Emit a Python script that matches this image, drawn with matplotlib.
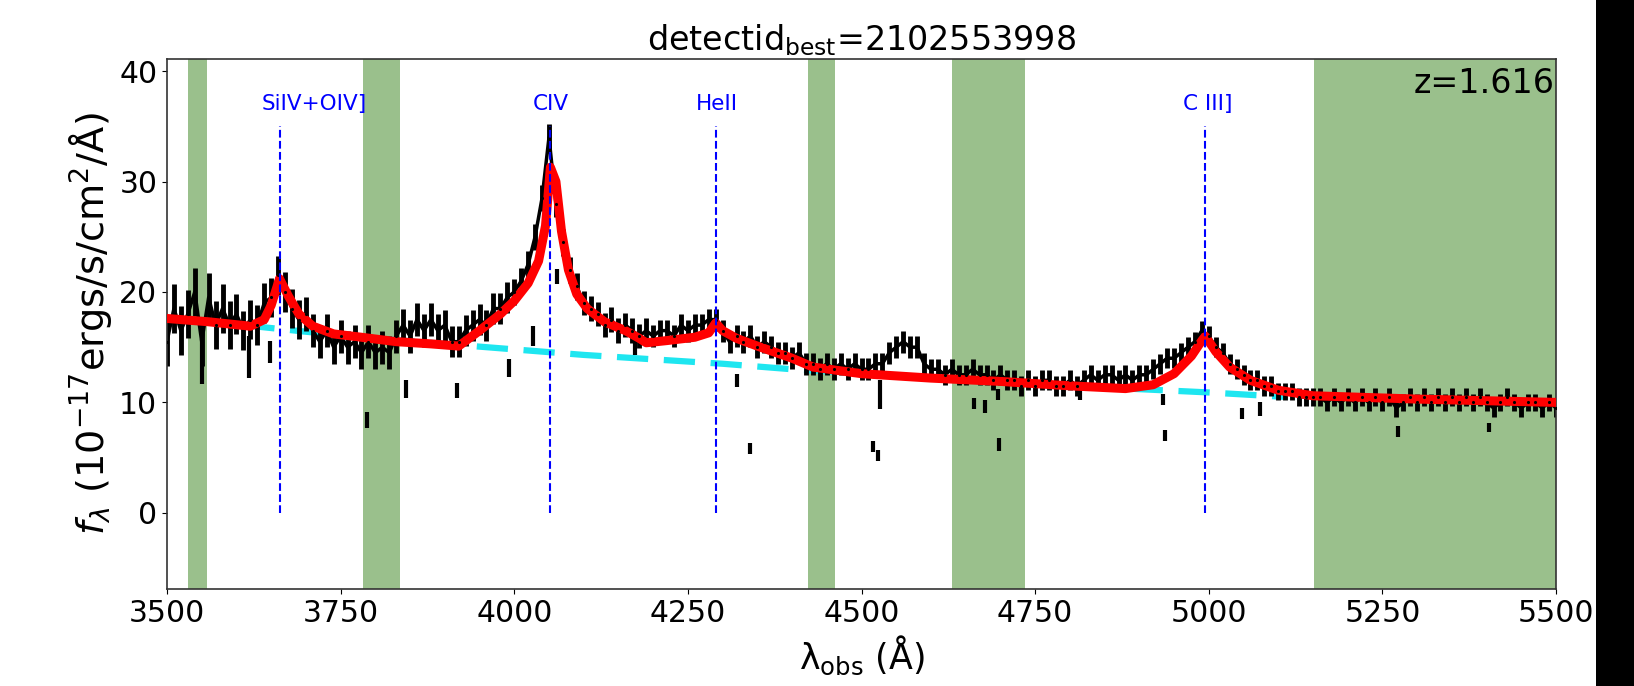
import numpy as np
import matplotlib
matplotlib.use('Agg')
import matplotlib.pyplot as plt
from matplotlib.patches import Rectangle

# observed spectrum, 10 A steps from 3500 to 5500
wave = np.arange(3500, 5501, 10)
flux = [
    15.5, 18.5, 16.5, 18.0, 20.0, 15.5, 19.5, 17.0, 18.5, 17.0,   # 3500
    18.0, 16.5, 17.5, 17.0, 19.0, 19.5, 21.5, 20.0, 18.5, 17.5,   # 3600
    18.0, 16.5, 15.5, 16.5, 15.0, 16.0, 15.0, 15.5, 14.5, 15.5,   # 3700
    14.5, 15.0, 14.5, 16.0, 17.0, 16.0, 17.5, 16.5, 17.5, 16.5,   # 3800
    17.0, 15.5, 15.5, 16.5, 17.0, 17.5, 17.0, 18.5, 18.5, 19.5,   # 3900
    20.0, 21.0, 22.5, 25.0, 28.5, 34.0, 28.0, 24.5, 22.0, 20.5,   # 4000
    19.0, 18.5, 18.0, 17.0, 17.5, 16.5, 17.0, 16.5, 16.0, 16.5,   # 4100
    16.0, 16.5, 16.5, 16.0, 17.0, 16.5, 17.0, 17.0, 17.5, 17.5,   # 4200
    16.5, 15.5, 16.0, 15.5, 16.0, 15.0, 15.5, 15.0, 14.5, 14.5,   # 4300
    14.0, 14.5, 13.5, 13.5, 13.0, 13.5, 13.0, 13.5, 13.0, 13.5,   # 4400
    13.0, 13.0, 13.5, 13.5, 14.5, 15.0, 15.5, 15.0, 15.0, 13.5,   # 4500
    13.0, 13.0, 12.5, 13.0, 12.5, 12.5, 13.0, 12.5, 12.5, 12.0,   # 4600
    12.5, 12.0, 12.0, 11.5, 12.0, 11.5, 12.0, 12.0, 11.5, 11.5,   # 4700
    12.0, 11.5, 12.0, 12.5, 12.0, 12.5, 12.5, 12.0, 12.5, 12.0,   # 4800
    12.5, 12.5, 13.0, 13.5, 14.0, 14.0, 14.5, 15.0, 15.5, 16.5,   # 4900
    16.0, 15.0, 14.5, 13.5, 13.0, 12.5, 12.0, 12.0, 11.5, 11.5,   # 5000
    11.0, 11.0, 11.0, 10.5, 10.5, 10.5, 10.5, 10.0, 10.5, 10.0,   # 5100
    10.5, 10.0, 10.5, 10.0, 10.5, 10.0, 10.5, 9.5, 10.0, 10.5,    # 5200
    10.0, 10.5, 10.0, 10.5, 10.0, 10.5, 10.0, 10.5, 10.0, 10.5,   # 5300
    10.0, 9.5, 10.0, 10.5, 10.0, 9.5, 10.0, 10.0, 9.5, 10.0,      # 5400
    9.5,                                                          # 5500
]
# 1 sigma errors, one value per 100 A block
err_block = [2.2, 1.8, 1.5, 1.5, 1.4, 1.2, 1.1, 1.0, 1.0, 1.0, 1.0,
             0.9, 0.9, 0.9, 0.9, 0.9, 0.8, 0.8, 0.8, 0.8, 0.8]

# isolated low pixels
out_wave = [3550, 3618, 3649, 3788, 3844, 3917, 3992, 4027, 4062, 4174, 4320, 4340, 4516,
            4524, 4527, 4662, 4678, 4696, 4698, 4815, 4934, 4937, 5048, 5074, 5272, 5404]
out_flux = [13.7, 14.1, 14.6, 8.4, 11.2, 11.1, 13.1, 16.0, 21.4, 15.1, 12.0, 5.8, 6.0,
            5.2, 10.7, 9.9, 9.6, 10.7, 6.2, 10.8, 10.3, 7.0, 9.0, 9.4, 7.4, 7.7]
out_err = [2.0, 1.9, 1.0, 0.7, 0.8, 0.7, 0.8, 0.9, 0.7, 0.8, 0.6, 0.5, 0.5,
           0.5, 1.3, 0.5, 0.6, 0.5, 0.6, 0.6, 0.5, 0.5, 0.5, 0.6, 0.5, 0.4]

# best fit model
fit_wave = [3500, 3560, 3620, 3640, 3650, 3662, 3675, 3690, 3710, 3740, 3780, 3830, 3880, 3920,
            3950, 3980, 4000, 4020, 4035, 4045, 4052, 4060, 4068, 4078, 4090, 4105, 4130, 4160,
            4180, 4190, 4220, 4260, 4280, 4290, 4300, 4320, 4350, 4400, 4430, 4500, 4600, 4700,
            4800, 4880, 4920, 4950, 4975, 4990, 4995, 5010, 5030, 5060, 5100, 5150, 5300, 5500]
fit_flux = [17.6, 17.3, 16.9, 17.5, 18.8, 21.2, 19.6, 18.0, 16.9, 16.2, 15.9, 15.5, 15.3, 15.1,
            16.5, 18.0, 19.2, 20.8, 22.8, 26.0, 31.3, 30.0, 25.5, 22.0, 19.8, 18.5, 17.3, 16.5,
            15.8, 15.4, 15.6, 15.9, 16.3, 17.2, 16.5, 15.8, 15.1, 14.0, 13.2, 12.6, 12.2, 11.9,
            11.5, 11.25, 11.6, 12.6, 14.2, 15.6, 16.0, 14.6, 13.2, 12.0, 11.1, 10.6, 10.3, 10.0]

# power law continuum
cont_wave = [3610, 3700, 3800, 3900, 4000, 4100, 4200, 4300, 4400, 4500, 4600, 4700, 4800, 4900, 5000, 5110]
cont_flux = [17.0, 16.4, 15.8, 15.3, 14.8, 14.3, 13.9, 13.5, 13.0, 12.6, 12.2, 11.9, 11.5, 11.2, 10.9, 10.5]

# masked regions
mask_lo = [3530, 3782, 4423, 4630, 5152]
mask_hi = [3558, 3835, 4462, 4736, 5500]

line_names = ['SiIV+OIV]', 'CIV', 'HeII', 'C III]']
line_wave = [3662, 4052, 4290, 4994]
label_wave = [3712, 4052, 4292, 4998]

z_best = 1.616
detectid = 2102553998


def main():
    err = np.repeat(err_block, 10)[:len(wave)]

    fig = plt.figure(figsize=(16.34, 6.86), dpi=100)
    ax = fig.add_axes([0.1022, 0.1414, 0.8501, 0.7726])

    for lo, hi in zip(mask_lo, mask_hi):
        ax.axvspan(lo, hi, color='#9ac08c', lw=0, zorder=0)

    ax.plot(cont_wave, cont_flux, color='#1ee6f0', lw=4.5, ls=(0, (5, 2.5)), zorder=1.5)

    ax.errorbar(wave, flux, yerr=err, fmt='-', color='k', lw=2.5, elinewidth=3.5, zorder=2)
    ax.errorbar(out_wave, out_flux, yerr=out_err, fmt='none', ecolor='k', elinewidth=3, zorder=2)

    ax.plot(fit_wave, fit_flux, color='red', lw=6.5, zorder=3)
    ax.plot(wave, flux, 'k.', ms=2.5, zorder=4)

    for name, lw_, tw in zip(line_names, line_wave, label_wave):
        ax.plot([lw_, lw_], [0, 35], color='blue', ls='--', lw=1.5, zorder=5)
        ax.text(tw, 37, name, color='blue', fontsize=15.5, ha='center', va='center')

    ax.text(0.999, 0.985, 'z={:.3f}'.format(z_best), transform=ax.transAxes,
            fontsize=24, ha='right', va='top')

    ax.set_xlim(3500, 5500)
    ax.set_ylim(-6.9, 41.1)
    ax.set_yticks([0, 10, 20, 30, 40])
    ax.tick_params(labelsize=21.5)
    for sp in ax.spines.values():
        sp.set_linewidth(1.2)
        sp.set_color('#333333')

    ax.set_title(r'detectid$_{\mathrm{best}}$=' + str(detectid), fontsize=24)
    ax.set_xlabel(r'λ$_{\mathrm{obs}}$ (Å)', fontsize=25)
    ax.set_ylabel(r'$f_\lambda$ (10$^{-17}$ergs/s/cm$^2$/Å)', fontsize=27.5)

    # dark strip along the right edge
    fig.patches.append(Rectangle((0.9767, 0), 0.0233, 1, transform=fig.transFigure,
                                 facecolor='black', edgecolor='none', zorder=10))

    fig.savefig('out.png', dpi=100)


if __name__ == "__main__":
    main()
